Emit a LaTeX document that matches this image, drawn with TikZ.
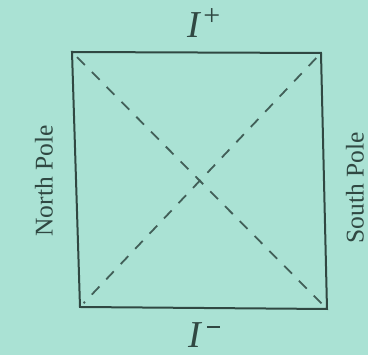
\documentclass[tikz,border=0pt]{standalone}
\usepackage{fontspec}
\setmainfont{Liberation Serif}
\usetikzlibrary{calc}
\definecolor{bg}{RGB}{170,226,212}
\definecolor{ink}{RGB}{48,72,66}
\begin{document}
\begin{tikzpicture}[x=1pt,y=-1pt,
  edge/.style={draw=ink,line width=2pt},
  diag/.style={draw=ink!85!bg,line width=1.8pt,dash pattern=on 11pt off 10pt},
  lbl/.style={text=ink,inner sep=0pt}]
\fill[bg] (0,0) rectangle (368,355);
\useasboundingbox (0,0) rectangle (368,355);
\coordinate (tl) at (72,52);
\coordinate (tr) at (321,53);
\coordinate (br) at (327,309);
\coordinate (bl) at (80,307);
\draw[edge] (tl) -- (tr) -- (br) -- (bl) -- cycle;
\draw[diag] ($(tl)!0.02!(br)$) -- ($(tl)!0.985!(br)$);
\draw[diag] ($(tr)!0.02!(bl)$) -- ($(tr)!0.985!(bl)$);
\node[lbl,font=\fontsize{38}{40}\selectfont] (ip) at (204,23) {\itshape I\kern3pt\raisebox{12pt}{\upshape\fontsize{30}{30}\selectfont +}};
\node[lbl,font=\fontsize{38}{40}\selectfont] (im) at (204,335) {\itshape I\kern6pt\raisebox{19pt}{\rule{13pt}{2.2pt}}};
\node[lbl,rotate=90,font=\fontsize{25.5}{28}\selectfont] (np) at (44,181) {North Pole};
\node[lbl,rotate=90,font=\fontsize{25.5}{28}\selectfont] (sp) at (355,188) {South Pole};
\end{tikzpicture}
\end{document}
